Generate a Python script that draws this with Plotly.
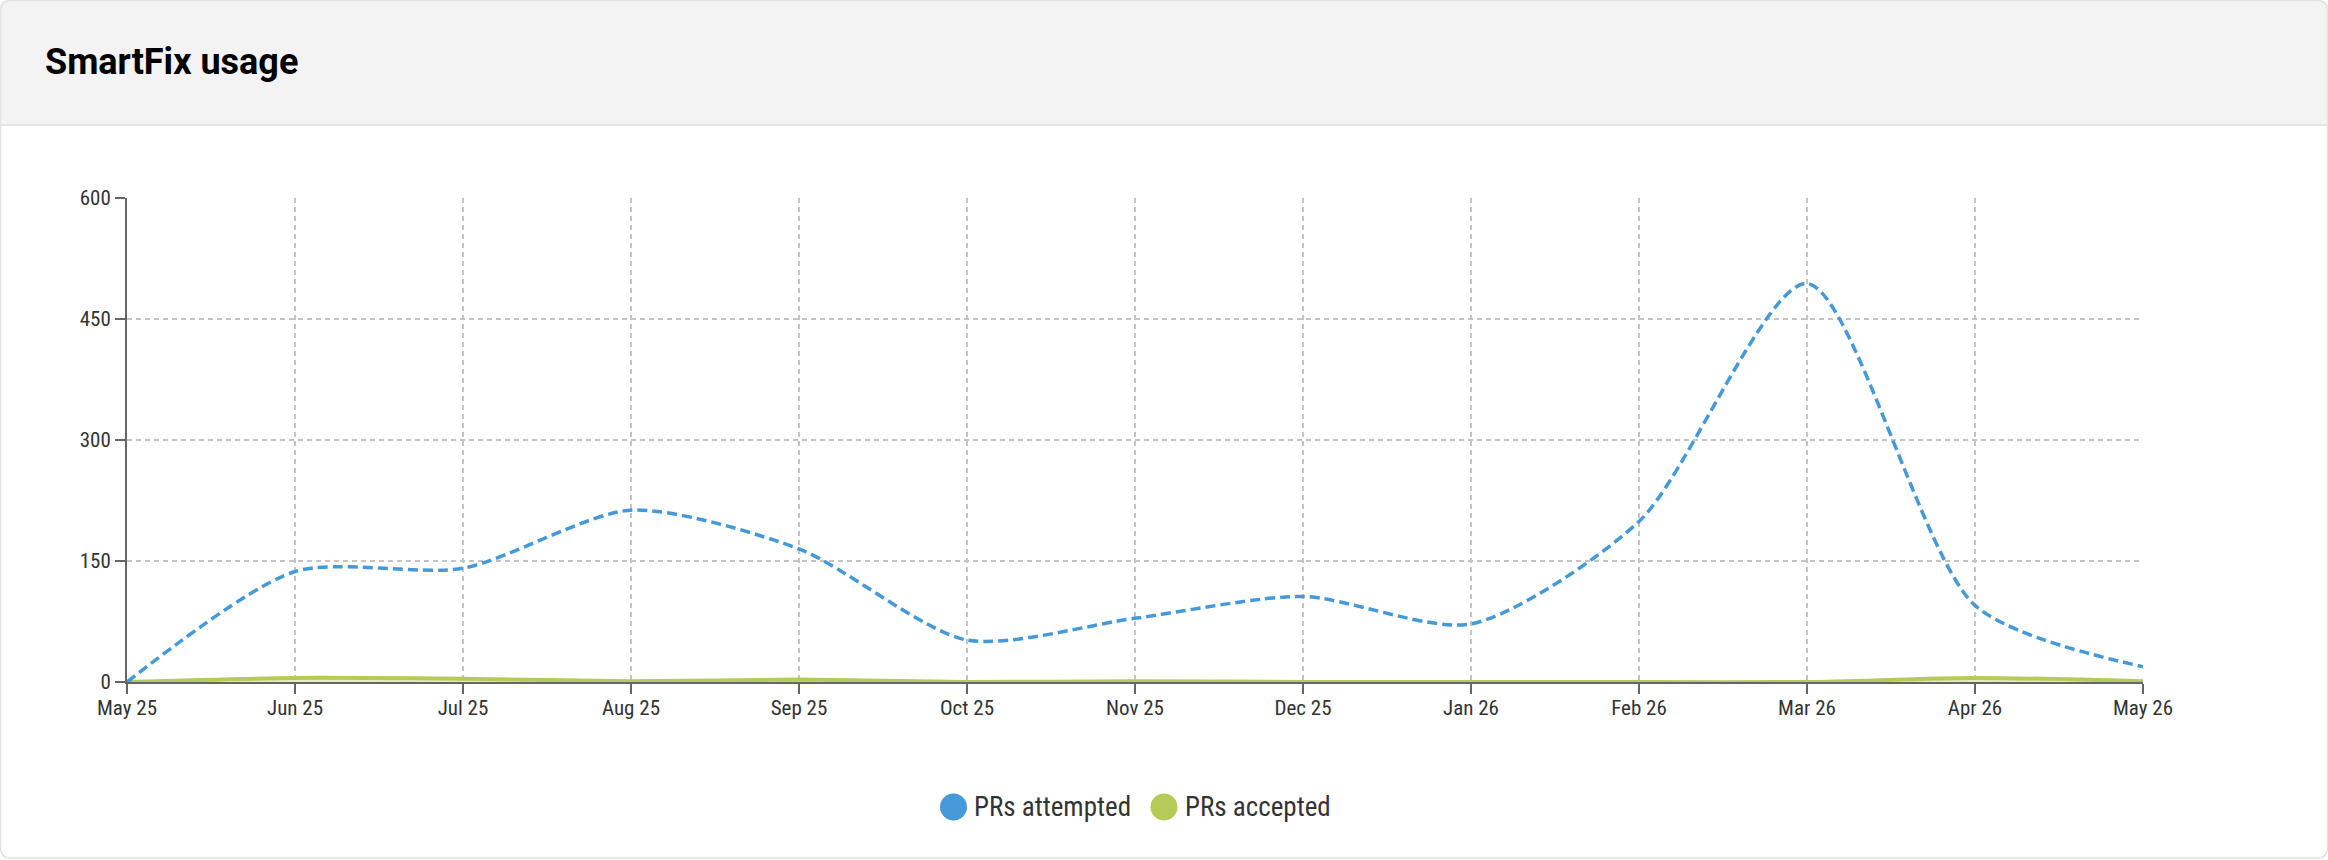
import plotly.graph_objects as go

# ---- data ----
months = ["May 25", "Jun 25", "Jul 25", "Aug 25", "Sep 25", "Oct 25", "Nov 25",
          "Dec 25", "Jan 26", "Feb 26", "Mar 26", "Apr 26", "May 26"]
prs_attempted = [0, 137, 141, 213, 165, 52, 79, 106, 72, 199, 494, 95, 19]
prs_accepted = [0, 5, 4, 1, 3, 0, 1, 0, 0, 0, 0, 5, 1]
series_names = ["PRs attempted", "PRs accepted"]
y_ticks = [0, 150, 300, 450, 600]

BLUE = "#4599d8"
GREEN = "#b5cb57"
W, H = 2328, 860
ML, MR, MT, MB = 127, 185, 198, 178
PW, PH = W - ML - MR, H - MT - MB

def px2x(px):
    return (px - ML) / PW

def px2y(py):
    return (H - MB - py) / PH

TICKFONT = "Roboto Condensed, Liberation Sans Narrow, DejaVu Sans Condensed, Roboto, sans-serif"

fig = go.Figure()
fig.add_trace(go.Scatter(
    x=months, y=prs_accepted, name=series_names[1], mode="lines",
    line=dict(color=GREEN, width=4, shape="spline", smoothing=0.75),
    fill="tozeroy", fillcolor="rgba(181,203,87,0.35)", showlegend=False,
))
fig.add_trace(go.Scatter(
    x=months, y=prs_attempted, name=series_names[0], mode="lines",
    line=dict(color=BLUE, width=3.5, dash="10px,5px", shape="spline", smoothing=0.75),
    showlegend=False,
))

shapes = []
# card outline with rounded corners
r = 10
x0, x1, y0, y1 = 0.5, W - 0.5, 0.5, H - 2
def P(x, y):
    return f"{px2x(x):.6f},{px2y(y):.6f}"
card_path = (f"M {P(x0 + r, y0)} L {P(x1 - r, y0)} Q {P(x1, y0)} {P(x1, y0 + r)} "
             f"L {P(x1, y1 - r)} Q {P(x1, y1)} {P(x1 - r, y1)} L {P(x0 + r, y1)} "
             f"Q {P(x0, y1)} {P(x0, y1 - r)} L {P(x0, y0 + r)} Q {P(x0, y0)} {P(x0 + r, y0)} Z")
hy = 125
header_path = (f"M {P(x0 + r, y0)} L {P(x1 - r, y0)} Q {P(x1, y0)} {P(x1, y0 + r)} "
               f"L {P(x1, hy)} L {P(x0, hy)} L {P(x0, y0 + r)} Q {P(x0, y0)} {P(x0 + r, y0)} Z")
shapes.append(dict(type="path", xref="paper", yref="paper", path=header_path,
                   fillcolor="#f3f3f3", line=dict(width=0), layer="below"))
shapes.append(dict(type="line", xref="paper", yref="paper",
                   x0=px2x(x0), x1=px2x(x1), y0=px2y(hy), y1=px2y(hy),
                   line=dict(color="#dcdcdc", width=1.5), layer="below"))
shapes.append(dict(type="path", xref="paper", yref="paper", path=card_path,
                   line=dict(color="#e2e2e2", width=1.5), layer="below"))

# legend (circles + labels)
legend_y = px2y(807)
legend_items = [(953.5, 972, series_names[0], BLUE), (1164, 1183, series_names[1], GREEN)]
annotations = []
for cx, tx, name, col in legend_items:
    shapes.append(dict(type="circle", xref="paper", yref="paper",
                       xsizemode="pixel", ysizemode="pixel",
                       xanchor=px2x(cx), yanchor=legend_y,
                       x0=-13.5, x1=13.5, y0=-13.5, y1=13.5,
                       fillcolor=col, line=dict(width=0)))
    annotations.append(dict(xref="paper", yref="paper", x=px2x(tx), y=legend_y,
                            xanchor="left", yanchor="middle", showarrow=False,
                            text=name, font=dict(family=TICKFONT, size=27, color="#333333")))

fig.update_layout(
    width=W, height=H,
    margin=dict(l=ML, r=MR, t=MT, b=MB, pad=0),
    paper_bgcolor="white", plot_bgcolor="white",
    title=dict(text="<b>SmartFix usage</b>", xref="container", yref="container",
               x=45 / W, xanchor="left", y=1 - 61 / H, yanchor="middle",
               font=dict(family="Roboto, sans-serif", size=36, color="#000000")),
    shapes=shapes, annotations=annotations,
    showlegend=False,
)
fig.update_xaxes(
    type="category", range=[0, len(months) - 1],
    showgrid=True, gridcolor="#c4c4c4", gridwidth=1.5, griddash="5px,4px",
    showline=True, linecolor="#666666", linewidth=2,
    ticks="outside", ticklen=10, tickwidth=2, tickcolor="#666666",
    tickfont=dict(family=TICKFONT, size=21, color="#333333"),
    ticklabelstandoff=-4,
    zeroline=False, layer="below traces",
)
fig.update_yaxes(
    range=[0, 600], tickvals=y_ticks,
    showgrid=True, gridcolor="#c4c4c4", gridwidth=1.5, griddash="5px,4px",
    showline=True, linecolor="#666666", linewidth=2,
    ticks="outside", ticklen=10, tickwidth=2, tickcolor="#666666",
    tickfont=dict(family=TICKFONT, size=21, color="#333333"),
    zeroline=False, layer="below traces",
)

fig.write_html("out.html")
